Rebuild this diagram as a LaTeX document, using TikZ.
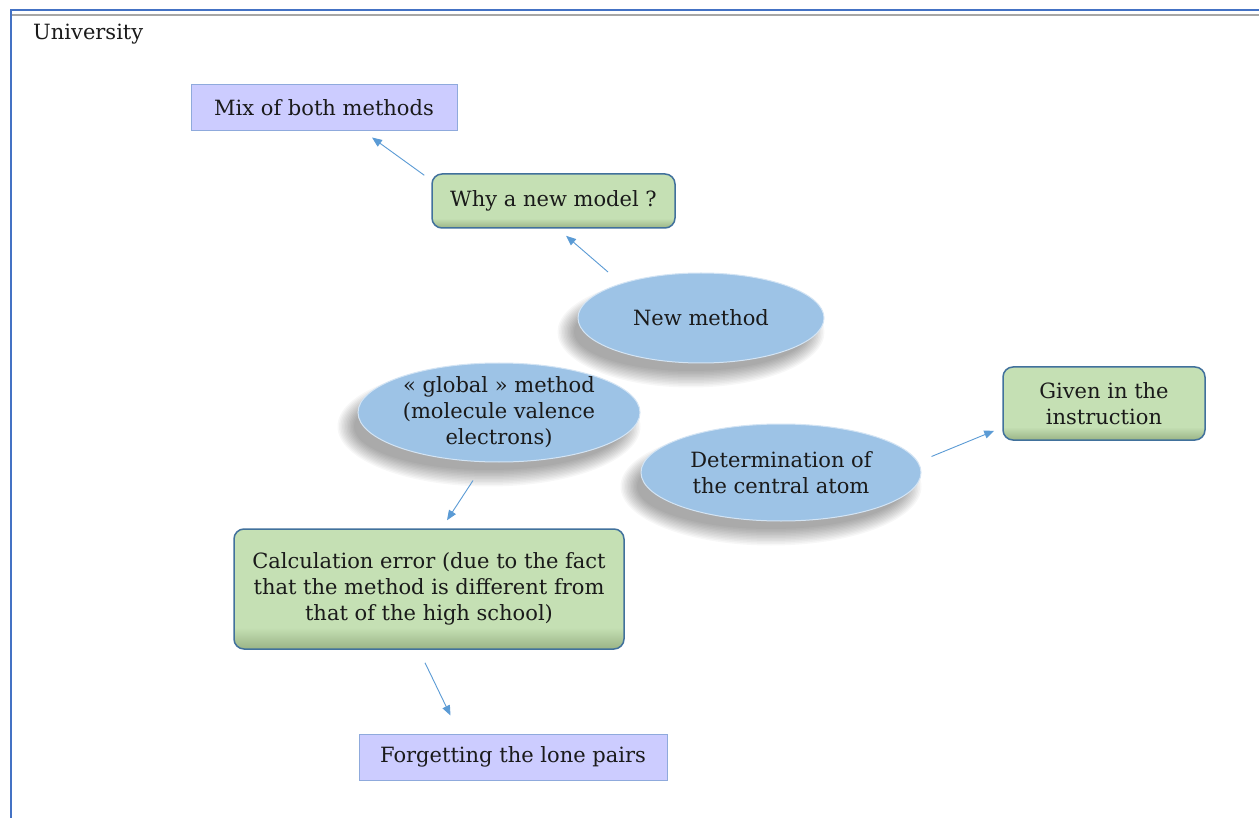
\documentclass[tikz,border=0pt]{standalone}
\usepackage{fontspec}
\setmainfont{DejaVu Serif}
\usetikzlibrary{shapes.geometric,arrows.meta,calc}
\definecolor{ovalc}{HTML}{9DC3E6}
\definecolor{greenc}{HTML}{C5E0B4}
\definecolor{greendk}{HTML}{9AB486}
\definecolor{greenbd}{HTML}{41719C}
\definecolor{lavc}{HTML}{CCCCFF}
\definecolor{lavbd}{HTML}{8FAADC}
\definecolor{arrowc}{HTML}{5B9BD5}
\definecolor{framec}{HTML}{4472C4}
\definecolor{txtc}{HTML}{1A1A1A}
\pgfdeclareverticalshading{greenbev}{100bp}{color(0bp)=(greendk); color(25bp)=(greendk); color(34bp)=(greenc); color(75bp)=(greenc); color(100bp)=(greenc)}
\newcommand{\myovalshadow}[4]{%
  \foreach \k in {0,...,11}{%
    \fill[black, opacity=0.032] (#1-10,#2+14) ellipse [x radius={#3-6+\k*1.5}, y radius={#4-6+\k*1.5}];}}
\begin{document}
\begin{tikzpicture}[x=1pt,y=-1pt,
  every node/.style={font=\fontsize{21}{26}\selectfont, text=txtc, inner sep=0pt, align=center},
  lavbox/.style={rectangle, fill=lavc, draw=lavbd, line width=1pt},
  greenbox/.style={rectangle, rounded corners=10pt, draw=greenbd, line width=1.5pt, shading=greenbev},
  oval/.style={ellipse, fill=ovalc, draw=white!55!ovalc, line width=1pt},
  conn/.style={draw=arrowc, line width=0.9pt, -{Triangle[length=10pt,width=8pt]}}]
\useasboundingbox (0,0) rectangle (1259,818);
\fill[white] (0,0) rectangle (1259,818);
% frame
\draw[framec, line width=2pt] (10.5,818) -- (10.5,10.5) -- (1259,10.5);
\draw[black!35, line width=2pt] (12,15.5) -- (1259,15.5);
\node[anchor=base west] (univ) at (33,40) {University};
% shadows
\myovalshadow{701}{318}{123}{45}
\myovalshadow{499}{412.5}{141}{49.5}
\myovalshadow{781}{472.5}{140}{48.5}
% boxes
\node[lavbox, minimum width=266pt, minimum height=46pt] (mix) at (324,108) {Mix of both methods};
\node[greenbox, minimum width=243pt, minimum height=54pt] (why) at (553.5,201) {Why a new model ?};
\node[oval, minimum width=246pt, minimum height=90pt] (newm) at (701,318) {};
\node (newmt) at (newm) {New method};
\node[oval, minimum width=282pt, minimum height=99pt] (glob) at (499,412.5) {};
\node (globt) at (glob) {« global » method\\(molecule valence\\electrons)};
\node[oval, minimum width=280pt, minimum height=97pt] (det) at (781,472.5) {};
\node (dett) at (det) {Determination of\\the central atom};
\node[greenbox, minimum width=202pt, minimum height=73pt] (given) at (1104,403.5) {Given in the\\instruction};
\node[greenbox, minimum width=390pt, minimum height=120pt] (calc) at (429,589) {Calculation error (due to the fact\\that the method is different from\\that of the high school)};
\node[lavbox, minimum width=308pt, minimum height=46pt] (forget) at (513,757) {Forgetting the lone pairs};
% connectors
\draw[conn] ($(why.north west)+(-7,2)$) -- ($(mix.south)+(48,6)$);
\draw[conn] ($(newm.center)+(-93,-46)$) -- ($(why.south)+(12.5,7)$);
\draw[conn] ($(glob.south)+(-26,18)$) -- ($(calc.north)+(18,-8)$);
\draw[conn] ($(det.east)+(10,-16)$) -- ($(given.south west)+(-8,-10)$);
\draw[conn] ($(calc.south)+(-4,13)$) -- ($(forget.north west)+(92,-18)$);
\end{tikzpicture}
\end{document}
